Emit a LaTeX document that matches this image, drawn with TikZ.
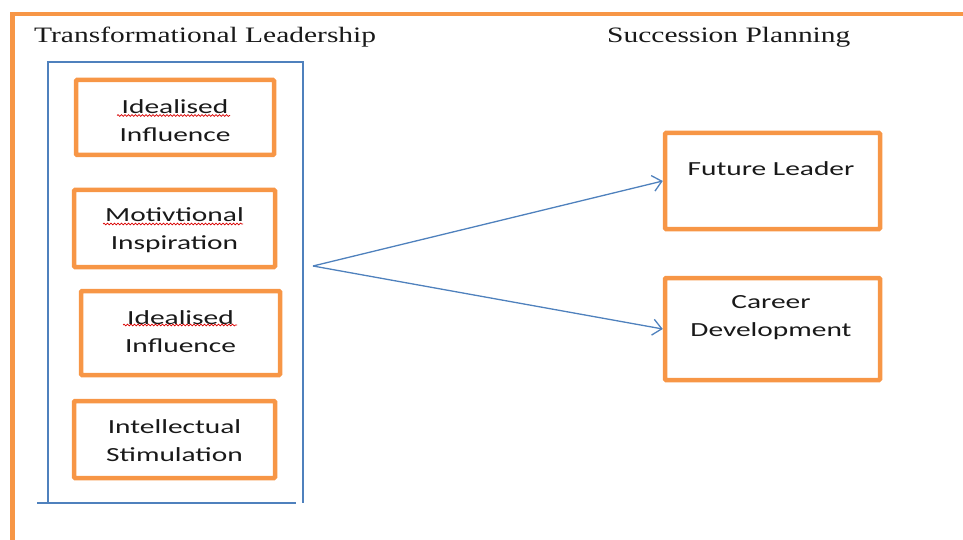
\documentclass[tikz,border=0pt]{standalone}
\usepackage{fontspec}
\usetikzlibrary{arrows.meta,decorations.pathmorphing}
\newfontfamily\boxfont[FakeStretch=1.47]{Carlito}
\newfontfamily\headfont[FakeStretch=1.34]{Liberation Serif}
\definecolor{frameorange}{HTML}{F79646}
\definecolor{lineblue}{HTML}{4F81BD}
\tikzset{
  obox/.style={draw=frameorange, line width=4.5pt, rounded corners=1pt, inner sep=0pt},
  btext/.style={font=\boxfont\fontsize{20pt}{28pt}\selectfont, align=center, inner sep=0pt, text=black!90},
  htext/.style={font=\headfont\fontsize{22pt}{26pt}\selectfont, anchor=base west, inner sep=0pt, text=black!90},
  bline/.style={draw=lineblue, line width=1.3pt},
  arr/.style={bline, -{Straight Barb[length=9pt,width=16pt,line width=1.3pt]}},
  spell/.style={draw=red!85!black, line width=0.7pt, decorate, decoration={snake, amplitude=0.9pt, segment length=3.5pt}}
}
\begin{document}
\begin{tikzpicture}[x=1pt,y=-1pt]
\useasboundingbox (0,0) rectangle (963,540);
\clip (0,0) rectangle (963,540);
% outer frame (cut off by the page)
\draw[draw=frameorange, line width=4.5pt] (12.5,560) -- (12.5,14) -- (990,14);
% headings
\node[htext] (tl) at (34,43) {Transformational Leadership};
\node[htext] (sp) at (607,43) {Succession Planning};
% blue container
\draw[bline] (48,503) -- (48,62) -- (303,62) -- (303,503);
\draw[bline] (37,503) -- (296,503);
% left boxes
\node[obox, minimum width=198pt, minimum height=75pt] (b1) at (175,117.5) {};
\node[btext] (t1) at (175,121) {Idealised\\Influence};
\node[obox, minimum width=201pt, minimum height=77pt] (b2) at (174.5,228.5) {};
\node[btext] (t2) at (174.5,230) {Motivtional\\Inspiration};
\node[obox, minimum width=199pt, minimum height=84pt] (b3) at (180.5,333) {};
\node[btext] (t3) at (180.5,332) {Idealised\\Influence};
\node[obox, minimum width=201pt, minimum height=77pt] (b4) at (174.5,439.5) {};
\node[btext] (t4) at (174.5,441) {Intellectual\\Stimulation};
% spell-check underlines
\draw[spell] (117,115.5) -- (230,115.5);
\draw[spell] (103,224) -- (243,224);
\draw[spell] (123,325) -- (237,325);
% right boxes
\node[obox, minimum width=215pt, minimum height=96pt] (fl) at (772.5,181) {};
\node[btext] (tfl) at (771,168.5) {Future Leader};
\node[obox, minimum width=215pt, minimum height=102pt] (cd) at (772.5,329) {};
\node[btext] (tcd) at (771,318) {Career\\Development};
% connectors
\coordinate (src) at (313,266);
\draw[arr] (src) -- (fl.west);
\draw[arr] (src) -- (cd.west);
\end{tikzpicture}
\end{document}
